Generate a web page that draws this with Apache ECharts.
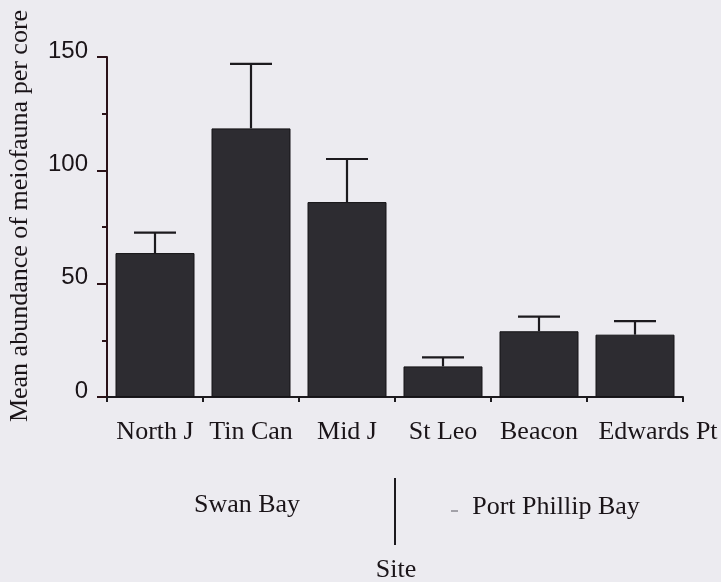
<!DOCTYPE html>
<html>
<head>
<meta charset="utf-8">
<script src="https://cdn.jsdelivr.net/npm/echarts@6/dist/echarts.min.js"></script>
<style>
  html, body { margin: 0; padding: 0; background: #ecebf0; }
  #chart { width: 721px; height: 582px; }
</style>
</head>
<body>
<div id="chart"></div>
<script>
// Sites sampled, in plotting order
const sites = ['North J', 'Tin Can', 'Mid J', 'St Leo', 'Beacon', 'Edwards Pt'];
// Mean abundance of meiofauna per core
const meanAbundance = [63.5, 118.5, 86, 13.5, 29, 27.5];
// Upper end of the error bar (mean + SE)
const errorTop = [72.5, 147, 105, 17.5, 35.5, 33.5];
// Value-axis tick settings
const yTicks = [0, 50, 100, 150];

const serif = '"Liberation Serif", "Times New Roman", serif';
const sans = '"Liberation Sans", Arial, sans-serif';
const ink = '#1c1a1e';
const textInk = '#1a1418';

const chart = echarts.init(document.getElementById('chart'));

// the last site name sits a little right of its bar
const siteLabels = sites.map((s, i) => i === sites.length - 1
  ? { value: s, textStyle: { padding: [0, 0, 0, 46] } }
  : s);

chart.setOption({
  backgroundColor: '#ecebf0',
  animation: false,
  grid: { left: 107, right: 38, top: 57, bottom: 185, containLabel: false },
  xAxis: {
    type: 'category',
    data: siteLabels,
    boundaryGap: true,
    axisLine: { lineStyle: { color: ink, width: 2 } },
    axisTick: { show: true, alignWithLabel: false, length: 5, lineStyle: { color: ink, width: 2 } },
    axisLabel: {
      interval: 0, hideOverlap: false,
      color: textInk, fontFamily: serif, fontSize: 26, margin: 22
    }
  },
  yAxis: {
    type: 'value',
    min: yTicks[0],
    max: yTicks[yTicks.length - 1],
    interval: yTicks[1] - yTicks[0],
    splitLine: { show: false },
    axisLine: { show: true, lineStyle: { color: '#2a1218', width: 2 } },
    axisTick: { show: true, inside: false, length: 10, lineStyle: { color: '#2a1218', width: 2 } },
    minorTick: { show: true, splitNumber: 2, length: 5, lineStyle: { color: '#2a1218', width: 2 } },
    // numbers sit slightly above their ticks
    axisLabel: {
      color: textInk, fontFamily: sans, fontSize: 24, margin: 19,
      verticalAlign: 'bottom', lineHeight: 12
    }
  },
  series: [
    {
      type: 'bar',
      data: meanAbundance,
      barWidth: 79,
      itemStyle: { color: '#2d2c31', borderColor: '#141316', borderWidth: 1 },
      z: 2
    },
    {
      type: 'custom',
      data: sites.map((s, i) => [i, meanAbundance[i], errorTop[i]]),
      z: 3,
      renderItem: function (params, api) {
        const base = api.coord([api.value(0), api.value(1)]);
        const top = api.coord([api.value(0), api.value(2)]);
        const half = 21;
        const style = { stroke: ink, lineWidth: 2.2 };
        return {
          type: 'group',
          children: [
            { type: 'line', shape: { x1: base[0], y1: base[1], x2: top[0], y2: top[1] }, style: style },
            { type: 'line', shape: { x1: top[0] - half, y1: top[1], x2: top[0] + half, y2: top[1] }, style: style }
          ]
        };
      }
    }
  ],
  graphic: [
    {
      type: 'text',
      x: 20, y: 216,
      rotation: Math.PI / 2,
      style: {
        text: 'Mean abundance of meiofauna per core',
        font: '26px ' + serif,
        fill: textInk,
        textAlign: 'center',
        textVerticalAlign: 'middle'
      }
    },
    {
      type: 'text', x: 247, y: 505,
      style: { text: 'Swan Bay', font: '26px ' + serif, fill: textInk, textAlign: 'center', textVerticalAlign: 'middle' }
    },
    {
      type: 'text', x: 556, y: 507,
      style: { text: 'Port Phillip Bay', font: '26px ' + serif, fill: textInk, textAlign: 'center', textVerticalAlign: 'middle' }
    },
    {
      type: 'line',
      shape: { x1: 451, y1: 511, x2: 458, y2: 511 },
      style: { stroke: '#8a8890', lineWidth: 1.5 }
    },
    {
      type: 'line',
      shape: { x1: 395, y1: 478, x2: 395, y2: 545 },
      style: { stroke: ink, lineWidth: 2 }
    },
    {
      type: 'text', x: 396, y: 570,
      style: { text: 'Site', font: '26px ' + serif, fill: textInk, textAlign: 'center', textVerticalAlign: 'middle' }
    }
  ]
});
</script>
</body>
</html>
